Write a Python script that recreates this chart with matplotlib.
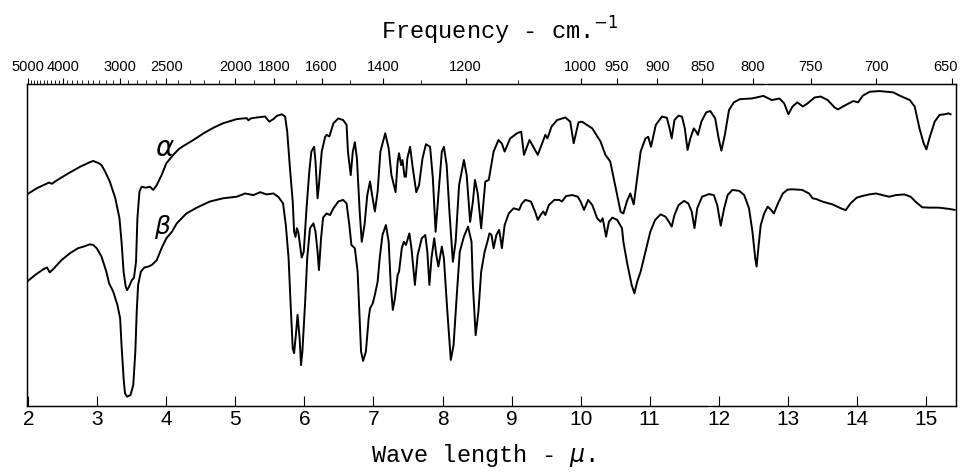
import numpy as np
import matplotlib.pyplot as plt
import matplotlib.transforms as mtransforms

# IR spectra of the alpha and beta forms, transmittance (%) against wave length (micron)
alpha_wl = [1.98, 2.12, 2.24, 2.30, 2.34, 2.38, 2.46, 2.60, 2.75, 2.89, 2.94, 3.02, 3.06, 3.11, 3.18,
            3.26, 3.32, 3.35, 3.38, 3.41, 3.43, 3.46, 3.50, 3.53, 3.56, 3.58, 3.61, 3.64, 3.70, 3.76,
            3.81, 3.86, 3.93, 4.00, 4.10, 4.18, 4.25, 4.39, 4.54, 4.68, 4.82, 5.02, 5.16, 5.19, 5.22,
            5.31, 5.43, 5.49, 5.55, 5.60, 5.67, 5.72, 5.75, 5.79, 5.83, 5.85, 5.87, 5.89, 5.91, 5.93,
            5.96, 5.99, 6.03, 6.07, 6.10, 6.14, 6.16, 6.19, 6.21, 6.25, 6.30, 6.32, 6.36, 6.42, 6.49,
            6.56, 6.61, 6.63, 6.67, 6.70, 6.73, 6.76, 6.80, 6.83, 6.87, 6.91, 6.95, 6.98, 7.02, 7.06,
            7.10, 7.17, 7.22, 7.26, 7.32, 7.35, 7.37, 7.40, 7.42, 7.45, 7.47, 7.49, 7.53, 7.57, 7.62,
            7.66, 7.71, 7.76, 7.82, 7.86, 7.90, 7.94, 7.99, 8.02, 8.06, 8.10, 8.15, 8.19, 8.24, 8.31,
            8.35, 8.40, 8.44, 8.47, 8.51, 8.56, 8.62, 8.67, 8.74, 8.81, 8.86, 8.90, 8.98, 9.08, 9.14,
            9.18, 9.26, 9.38, 9.49, 9.52, 9.58, 9.66, 9.78, 9.85, 9.90, 9.97, 10.02, 10.17, 10.29,
            10.36, 10.43, 10.50, 10.58, 10.62, 10.67, 10.72, 10.77, 10.82, 10.87, 10.94, 10.98, 11.02,
            11.09, 11.18, 11.25, 11.29, 11.32, 11.36, 11.42, 11.47, 11.51, 11.55, 11.59, 11.64, 11.67,
            11.70, 11.75, 11.82, 11.88, 11.95, 12.00, 12.04, 12.09, 12.15, 12.22, 12.31, 12.48, 12.65,
            12.77, 12.88, 12.95, 13.01, 13.07, 13.14, 13.22, 13.29, 13.39, 13.48, 13.58, 13.68, 13.73,
            13.80, 13.89, 13.95, 14.02, 14.09, 14.19, 14.33, 14.53, 14.62, 14.77, 14.84, 14.91, 14.97,
            15.01, 15.06, 15.13, 15.20, 15.28, 15.33, 15.36]
alpha_t = [65.7, 67.6, 68.8, 69.4, 69.0, 69.6, 70.7, 72.5, 74.3, 75.7, 76.1, 75.4, 74.8, 72.9, 69.7,
           64.5, 58.3, 51.0, 41.7, 37.1, 36.0, 37.1, 39.1, 39.8, 44.8, 58.3, 66.6, 68.1, 67.8, 68.1,
           67.1, 68.6, 71.7, 75.4, 78.0, 79.8, 80.8, 82.6, 84.7, 86.4, 87.8, 89.1, 89.4, 88.7, 89.3,
           89.6, 89.9, 88.3, 89.1, 90.1, 90.6, 89.9, 85.2, 73.8, 63.5, 54.1, 52.5, 55.2, 54.1, 51.0,
           46.1, 47.9, 61.4, 72.8, 79.0, 80.5, 75.9, 64.5, 68.6, 79.0, 83.6, 84.2, 83.7, 87.8, 89.3,
           88.8, 87.3, 79.0, 71.7, 78.9, 81.9, 76.9, 60.4, 51.0, 56.2, 65.5, 69.7, 65.5, 60.4, 66.6,
           79.0, 84.7, 80.0, 71.7, 66.4, 75.9, 78.5, 74.8, 76.4, 71.2, 71.2, 76.9, 80.5, 73.8, 66.4,
           68.6, 76.9, 81.3, 80.5, 70.7, 54.1, 65.5, 79.0, 80.5, 74.8, 60.4, 44.8, 51.0, 68.6, 76.4,
           71.7, 57.2, 63.5, 70.2, 66.0, 55.2, 69.7, 70.2, 79.0, 82.6, 81.5, 79.0, 83.1, 84.7, 85.2,
           78.0, 82.6, 78.0, 84.2, 83.1, 86.8, 88.8, 89.6, 88.3, 81.6, 88.1, 88.3, 86.2, 82.1,
           78.0, 75.9, 68.6, 60.3, 59.8, 63.5, 66.0, 62.6, 70.7, 79.0, 83.1, 83.6, 80.5,
           87.3, 89.9, 89.5, 86.2, 83.1, 88.8, 90.2, 89.8, 86.2, 79.5, 83.1, 86.2, 85.4,
           84.2, 88.3, 91.2, 91.6, 89.3, 83.1, 79.3, 84.2, 91.9, 94.3, 95.3, 95.5, 96.3,
           95.0, 95.5, 94.0, 90.6, 93.0, 94.3, 93.0, 94.0, 95.8, 96.1, 95.0, 92.7, 92.1,
           93.0, 94.0, 94.7, 94.3, 96.4, 97.6, 97.8, 97.4, 96.4, 95.0, 93.0, 86.2, 81.6,
           79.7, 83.6, 88.3, 90.4, 90.6, 90.9, 90.6]

beta_wl = [1.98, 2.10, 2.22, 2.27, 2.31, 2.36, 2.48, 2.60, 2.72, 2.80, 2.89, 2.94, 2.99, 3.06, 3.13,
           3.17, 3.23, 3.29, 3.33, 3.35, 3.38, 3.40, 3.43, 3.48, 3.52, 3.55, 3.57, 3.59, 3.63, 3.68,
           3.74, 3.79, 3.86, 3.93, 4.00, 4.08, 4.15, 4.29, 4.44, 4.63, 4.82, 5.02, 5.14, 5.26, 5.36,
           5.45, 5.55, 5.62, 5.69, 5.73, 5.77, 5.80, 5.83, 5.85, 5.88, 5.90, 5.93, 5.95, 5.97, 6.01,
           6.04, 6.08, 6.13, 6.16, 6.19, 6.21, 6.24, 6.27, 6.32, 6.37, 6.42, 6.49, 6.56, 6.61, 6.65,
           6.68, 6.73, 6.77, 6.80, 6.82, 6.85, 6.89, 6.93, 6.95, 6.99, 7.02, 7.06, 7.09, 7.13, 7.18,
           7.22, 7.25, 7.28, 7.31, 7.35, 7.37, 7.41, 7.44, 7.47, 7.52, 7.55, 7.60, 7.64, 7.70, 7.75,
           7.78, 7.81, 7.84, 7.88, 7.91, 7.94, 7.99, 8.02, 8.07, 8.12, 8.16, 8.21, 8.25, 8.31, 8.37,
           8.42, 8.44, 8.48, 8.52, 8.56, 8.61, 8.65, 8.68, 8.71, 8.74, 8.78, 8.82, 8.84, 8.86, 8.90,
           8.96, 9.03, 9.11, 9.15, 9.20, 9.28, 9.34, 9.38, 9.42, 9.46, 9.49, 9.54, 9.62, 9.69, 9.73,
           9.79, 9.88, 9.96, 10.00, 10.05, 10.11, 10.17, 10.24, 10.29, 10.32, 10.37, 10.41, 10.46,
           10.53, 10.60, 10.62, 10.68, 10.74, 10.78, 10.82, 10.87, 10.94, 11.01, 11.08, 11.16, 11.23,
           11.28, 11.32, 11.36, 11.42, 11.50, 11.56, 11.61, 11.65, 11.69, 11.76, 11.86, 11.93, 11.98,
           12.03, 12.08, 12.13, 12.20, 12.30, 12.37, 12.44, 12.49, 12.53, 12.55, 12.58, 12.61, 12.66,
           12.71, 12.76, 12.80, 12.86, 12.93, 13.00, 13.07, 13.21, 13.31, 13.36, 13.41, 13.50, 13.65,
           13.77, 13.84, 13.91, 14.00, 14.08, 14.18, 14.28, 14.37, 14.47, 14.57, 14.69, 14.78, 14.86,
           14.95, 15.05, 15.19, 15.34, 15.42]
beta_t = [38.6, 40.7, 42.5, 43.0, 41.5, 42.5, 45.3, 47.4, 49.0, 49.5, 50.2, 50.0, 49.0, 46.4, 41.7,
          38.1, 35.5, 31.4, 27.2, 18.9, 8.6, 3.9, 2.9, 3.4, 6.5, 16.9, 29.3, 37.6, 41.7, 43.0,
          43.3, 43.8, 45.3, 49.0, 52.1, 54.1, 56.7, 59.8, 61.6, 63.5, 64.5, 65.0, 66.0, 65.5, 66.4,
          65.7, 66.0, 65.0, 62.9, 56.2, 45.9, 31.4, 17.9, 16.4, 23.1, 28.3, 21.0, 12.7, 16.9, 32.4,
          45.9, 55.2, 56.7, 54.1, 47.9, 42.2, 52.0, 58.5, 59.8, 59.3, 61.4, 63.5, 64.0, 62.9, 56.2,
          50.0, 49.0, 41.7, 27.2, 16.9, 14.0, 16.9, 27.2, 30.3, 31.9, 34.5, 38.6, 45.9, 53.1, 56.2,
          51.0, 37.6, 29.8, 33.4, 40.7, 41.7, 49.0, 51.0, 50.0, 53.6, 49.0, 37.6, 46.9, 52.1, 53.1,
          47.9, 37.6, 45.9, 52.1, 46.9, 43.3, 49.5, 45.9, 29.3, 14.3, 18.9, 35.5, 47.9, 52.6, 55.7,
          51.0, 37.6, 22.0, 29.3, 41.7, 47.9, 51.0, 53.6, 53.1, 49.0, 53.1, 54.7, 52.1, 49.0, 56.2,
          59.8, 61.4, 60.9, 62.9, 64.0, 63.5, 60.4, 57.8, 59.3, 60.4, 59.3, 62.4, 64.0, 64.0, 63.5,
          65.2, 65.5, 65.0, 63.5, 60.9, 64.0, 62.4, 58.3, 57.2, 58.3, 52.6, 57.2, 58.5,
          57.8, 55.2, 51.0, 43.8, 37.6, 35.0, 38.6, 41.7, 47.9, 54.1, 57.8, 59.5, 58.8,
          57.2, 55.7, 59.3, 62.4, 63.7, 62.9, 60.4, 55.2, 61.4, 65.0, 65.8, 65.5, 62.4,
          56.0, 61.4, 65.5, 67.1, 66.8, 65.5, 61.4, 54.1, 45.9, 43.3, 50.0, 56.2, 59.8,
          61.9, 60.9, 59.8, 62.9, 66.0, 67.2, 67.3, 67.1, 66.0, 64.5, 64.3, 63.5, 62.6,
          61.4, 60.8, 62.9, 64.7, 65.2, 65.7, 66.0, 65.5, 65.0, 65.5, 65.7, 65.0, 63.3,
          61.7, 61.6, 61.6, 61.2, 60.9]

wl_ticks = list(range(2, 16))
freq_major = [5000, 4000, 3000, 2500, 2000, 1800, 1600, 1400, 1200, 1000, 950, 900, 850, 800, 750, 700, 650]
freq_minor = list(range(5000, 1000, -100))

x0, x1 = 1.981, 15.435
tick_font = ['Liberation Sans', 'DejaVu Sans']
title_font = ['Liberation Mono', 'DejaVu Sans']

fig = plt.figure(figsize=(9.62, 4.74), dpi=100)
ax = fig.add_axes([0.0281, 0.1435, 0.9654, 0.6793])

ax.plot(alpha_wl, alpha_t, color='black', lw=1.4)
ax.plot(beta_wl, beta_t, color='black', lw=1.4)
ax.text(3.98, 80.0, r'$\alpha$', fontsize=20, ha='center', va='center')
ax.text(3.95, 55.6, r'$\beta$', fontsize=18, ha='center', va='center')

ax.set_xlim(x0, x1)
ax.set_ylim(0, 100)
ax.set_yticks([])
ax.set_xticks(wl_ticks)
ax.set_xticklabels([str(v) for v in wl_ticks], family=tick_font, fontsize=15)
ax.tick_params(axis='x', direction='in', length=7, width=0.8, pad=3)
for s in ax.spines.values():
    s.set_linewidth(0.9)

# frequency scale on top
ax2 = ax.twiny()
ax2.set_xlim(x0, x1)
ax2.set_xticks([10000 / f for f in freq_major])
ax2.set_xticklabels([str(f) for f in freq_major], family=tick_font, fontsize=10.5)
ax2.set_xticks([10000 / f for f in freq_minor if f not in freq_major], minor=True)
ax2.tick_params(axis='x', which='major', direction='out', length=4, width=0.8, pad=3)
ax2.tick_params(axis='x', which='minor', direction='out', length=3, width=0.6)
for s in ax2.spines.values():
    s.set_linewidth(0.9)

# keep the last frequency label inside the picture
last = ax2.get_xticklabels()[-1]
last.set_ha('right')
last.set_transform(last.get_transform() + mtransforms.ScaledTranslation(5 / 100, 0, fig.dpi_scale_trans))

# small breaks in the scale lines, as on the chart paper
ax.spines['bottom'].set_bounds(x0, 11.83)
ax.plot([11.92, x1], [0, 0], color='black', lw=0.9, clip_on=False)
ax2.spines['top'].set_bounds(x0, 12.64)
ax.plot([12.72, x1], [100, 100], color='black', lw=0.9, clip_on=False)

fig.text(0.52, 0.935, 'Frequency - cm.$^{-1}$', ha='center', va='center', family=title_font, fontsize=17)
fig.text(0.502, 0.04, r'Wave length - $\mu$.', ha='center', va='center', family=title_font, fontsize=17)

fig.savefig('out.png', dpi=100)
